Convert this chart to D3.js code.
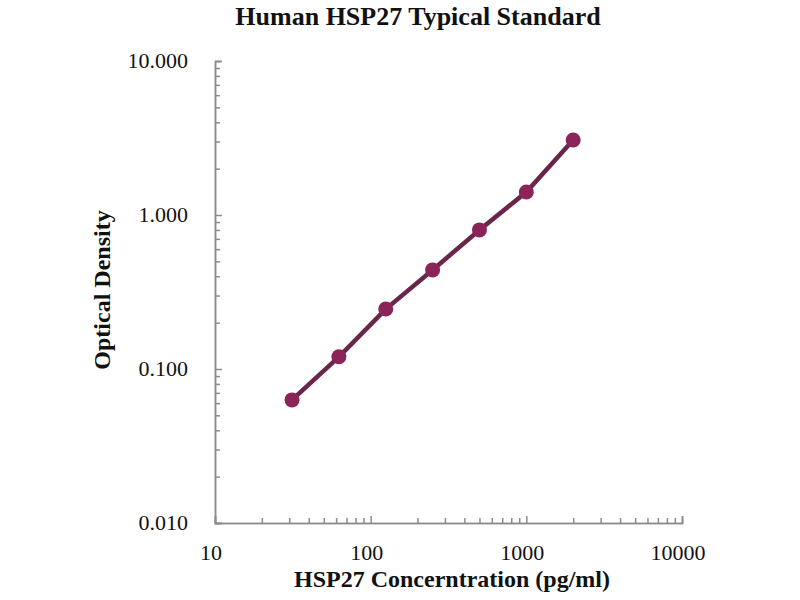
<!DOCTYPE html>
<html>
<head>
<meta charset="utf-8">
<script src="https://cdn.jsdelivr.net/npm/d3@7"></script>
<style>
  body { margin: 0; background: #fff; }
  text { font-family: "Liberation Serif", "Times New Roman", serif; }
</style>
</head>
<body>
<svg width="800" height="600"></svg>
<script>
// standard curve
const concentrations = [31.25, 62.5, 125, 250, 500, 1000, 2000]
const densities = [0.063, 0.12, 0.245, 0.44, 0.80, 1.41, 3.07]

const xTicks = [10, 100, 1000, 10000]
const yTicks = [0.01, 0.1, 1, 10]

const plotLeft = 215, plotRight = 682, plotTop = 61, plotBottom = 523

const svg = d3.select('svg')

const x = d3.scaleLog().domain([10, 10000]).range([plotLeft, plotRight])
const y = d3.scaleLog().domain([0.01, 10]).range([plotBottom, plotTop])

const axisColor = '#8c8c8c'

// minor ticks
const minorX = []
const minorY = []
for (let d = 10; d < 10000; d *= 10) for (let k = 2; k <= 9; k++) minorX.push(d * k)
for (let d = 0.01; d < 9.99; d *= 10) for (let k = 2; k <= 9; k++) minorY.push(d * k)

const xAxis = svg.append('g').attr('transform', `translate(0,${plotBottom})`)
  .call(d3.axisTop(x).tickValues(minorX).tickSize(5).tickFormat(''))
xAxis.call(g => g.append('g')
  .call(d3.axisTop(x).tickValues(xTicks).tickSize(7).tickFormat('')))
xAxis.selectAll('path,line').attr('stroke', axisColor).attr('stroke-width', 1.5)

const yAxis = svg.append('g').attr('transform', `translate(${plotLeft},0)`)
  .call(d3.axisRight(y).tickValues(minorY).tickSize(5).tickFormat(''))
yAxis.call(g => g.append('g')
  .call(d3.axisRight(y).tickValues(yTicks).tickSize(7).tickFormat('')))
yAxis.selectAll('path,line').attr('stroke', axisColor).attr('stroke-width', 1.5)

// tick labels
svg.append('g').selectAll('text')
  .data(xTicks)
  .enter().append('text')
  .attr('x', d => x(d) - 4)
  .attr('y', 560)
  .attr('text-anchor', 'middle')
  .attr('font-size', 22)
  .attr('fill', '#111')
  .text(d => d)

svg.append('g').selectAll('text')
  .data(yTicks)
  .enter().append('text')
  .attr('x', 188)
  .attr('y', d => y(d) + 7)
  .attr('text-anchor', 'end')
  .attr('font-size', 22)
  .attr('fill', '#111')
  .text(d => d3.format('.3f')(d))

// curve
const line = d3.line()
  .x((d, i) => x(concentrations[i]))
  .y(d => y(d))

svg.append('path')
  .datum(densities)
  .attr('d', line)
  .attr('fill', 'none')
  .attr('stroke', '#6a2649')
  .attr('stroke-width', 4.5)

svg.append('g').selectAll('circle')
  .data(densities)
  .enter().append('circle')
  .attr('cx', (d, i) => x(concentrations[i]))
  .attr('cy', d => y(d))
  .attr('r', 7.5)
  .attr('fill', '#8b2459')

// titles
svg.append('text')
  .attr('x', 418).attr('y', 25)
  .attr('text-anchor', 'middle')
  .attr('font-size', 26).attr('font-weight', 'bold')
  .attr('fill', '#111')
  .text('Human HSP27 Typical Standard')

svg.append('text')
  .attr('x', 452).attr('y', 587)
  .attr('text-anchor', 'middle')
  .attr('font-size', 24).attr('font-weight', 'bold')
  .attr('fill', '#111')
  .text('HSP27 Concerntration (pg/ml)')

svg.append('text')
  .attr('transform', 'translate(110,290) rotate(-90)')
  .attr('text-anchor', 'middle')
  .attr('font-size', 24).attr('font-weight', 'bold')
  .attr('fill', '#111')
  .text('Optical Density')
</script>
</body>
</html>
